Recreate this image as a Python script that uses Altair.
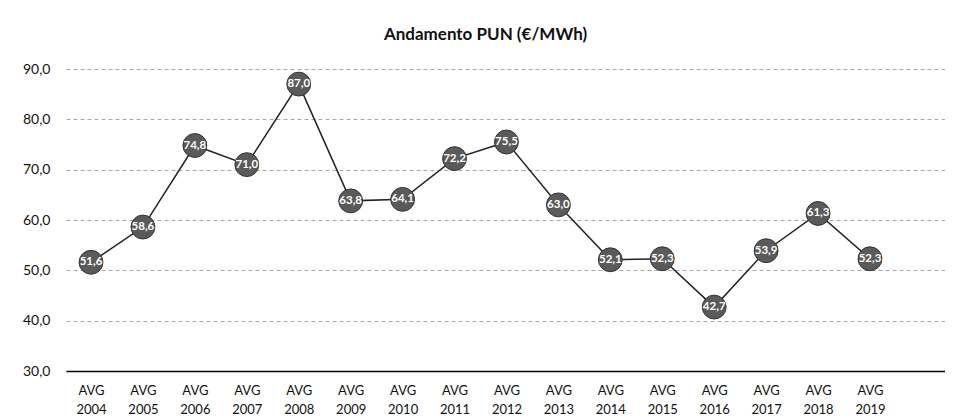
import altair as alt
import pandas as pd

years = ["AVG 2004", "AVG 2005", "AVG 2006", "AVG 2007", "AVG 2008", "AVG 2009",
         "AVG 2010", "AVG 2011", "AVG 2012", "AVG 2013", "AVG 2014", "AVG 2015",
         "AVG 2016", "AVG 2017", "AVG 2018", "AVG 2019"]
pun = [51.6, 58.6, 74.8, 71.0, 87.0, 63.8, 64.1, 72.2, 75.5, 63.0, 52.1, 52.3,
       42.7, 53.9, 61.3, 52.3]
y_ticks = [30, 40, 50, 60, 70, 80, 90]

df = pd.DataFrame({"year": years, "pun": pun})
df["label"] = [f"{v:.1f}".replace(".", ",") for v in pun]

FONT = "Lato"

x = alt.X(
    "year:O", sort=None,
    scale=alt.Scale(type="point", padding=0.963, align=0.25),
    axis=alt.Axis(title=None, labelAngle=0, labelExpr="split(datum.label, ' ')",
                  ticks=False, domainColor="black", domainWidth=1.5,
                  labelFont=FONT, labelFontSize=13, labelColor="#111",
                  labelPadding=13, labelLineHeight=19, grid=False),
)
y = alt.Y(
    "pun:Q",
    scale=alt.Scale(domain=[30, 90], nice=False, zero=False),
    axis=alt.Axis(title=None, values=y_ticks,
                  labelExpr="replace(format(datum.value, '.1f'), '.', ',')",
                  ticks=False, domain=False, grid=True, gridDash=[4, 3],
                  gridColor="#a8a8a8", gridWidth=1,
                  labelFont=FONT, labelFontSize=14, labelColor="#111",
                  labelPadding=16),
)

base = alt.Chart(df).encode(x=x, y=y)

line = base.mark_line(color="#222", strokeWidth=1.5)
points = base.mark_point(filled=True, size=570, color="#5a5a5a", opacity=1,
                         stroke="#333", strokeWidth=1)
text = base.mark_text(color="white", fontWeight="bold", fontSize=11.5,
                      font=FONT).encode(text="label:N")

chart = alt.layer(line, points, text).properties(
    width=879, height=302,
    title=alt.TitleParams("Andamento PUN (€/MWh)", font=FONT, fontSize=17,
                          fontWeight="bold", color="#111", offset=18,
                          anchor="middle", dx=-20),
    padding={"left": 14, "top": 18, "right": 0, "bottom": 0},
).configure_view(stroke=None)

chart.save("out.html", embed_options={"renderer": "svg", "actions": False})
